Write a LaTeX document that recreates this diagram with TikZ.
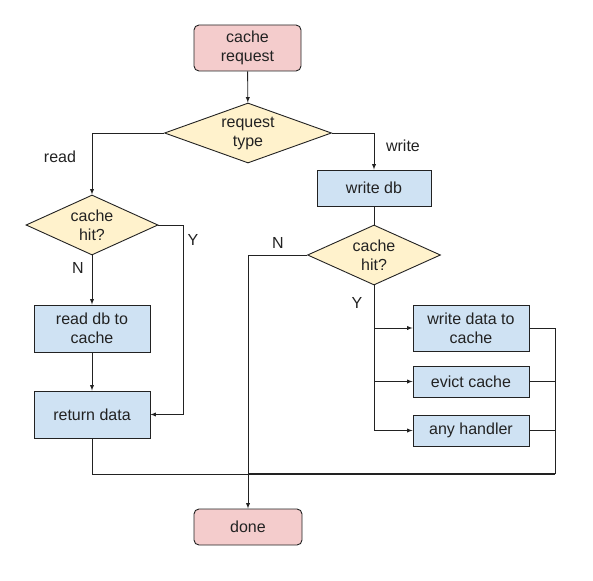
\documentclass[tikz,border=0pt]{standalone}
\usepackage{fontspec}
\setmainfont{Liberation Sans}
\usetikzlibrary{shapes.geometric}

\definecolor{termfill}{HTML}{F4CCCC}
\definecolor{procfill}{HTML}{CFE2F3}
\definecolor{decfill}{HTML}{FFF2CC}
\definecolor{edge}{HTML}{222222}

\tikzset{
  base/.style={draw=edge, line width=0.9pt, align=center, text=edge,
    font=\fontsize{16}{19}\selectfont, inner sep=0pt},
  term/.style={base, fill=termfill, rounded corners=5pt},
  proc/.style={base, fill=procfill, minimum width=116pt},
  dec/.style={base, fill=decfill, diamond, aspect=2.6, minimum height=60pt},
  lbl/.style={font=\fontsize{16}{19}\selectfont, text=edge}
}

\begin{document}
\begin{tikzpicture}[x=1pt, y=-1pt, >=latex, line width=0.9pt, draw=edge]
  \useasboundingbox (0,0) rectangle (593,580);
  \node[term, minimum width=107pt, minimum height=46pt] (req) at (247.5,48) {cache\\request};
  \node[dec, minimum width=167pt] (type) at (248,133) {request\\type};
  \node[proc, minimum width=114pt, minimum height=36pt] (wdb) at (374,188) {write db};
  \node[dec, minimum width=133pt] (hitR) at (374,255) {cache\\hit?};
  \node[dec, minimum width=132pt] (hitL) at (92,225) {cache\\hit?};
  \node[proc, minimum height=47pt] (rdb) at (92,328.5) {read db to\\cache};
  \node[proc, minimum height=47pt] (ret) at (92,414.5) {return data};
  \node[proc, minimum height=46pt] (wdc) at (471,328) {write data to\\cache};
  \node[proc, minimum height=31pt] (evict) at (471,381.5) {evict cache};
  \node[proc, minimum height=31pt] (any) at (471,430.5) {any handler};
  \node[term, minimum width=108pt, minimum height=36pt] (done) at (248,527) {done};
  \coordinate (bus) at (555,474);

  \node[lbl] (read) at (60,157) {read};
  \node[lbl] (write) at (403,146) {write};
  \node[lbl] (yL) at (193,240) {Y};
  \node[lbl] (nL) at (78,268) {N};
  \node[lbl] (nR) at (278,243) {N};
  \node[lbl] (yR) at (357,303) {Y};

  \draw[->] (req) -- (type);
  \draw[->] (type.west) -| (hitL.north);
  \draw[->] (type.east) -| (wdb.north);
  \draw (wdb) -- (hitR);
  \draw[->] (hitL) -- (rdb);
  \draw[->] (hitL.east) -- ++(25,0) |- (ret);
  \draw[->] (rdb) -- (ret);
  \draw (ret.south) |- (bus);
  \draw[->] (hitR.south) |- (wdc);
  \draw[->] (hitR.south) |- (evict);
  \draw[->] (hitR.south) |- (any);
  \draw (wdc.east) -| (bus);
  \draw (evict.east) -- (evict.east -| bus);
  \draw (any.east) -- (any.east -| bus);
  \draw[line width=1.8pt] (bus) -- (bus -| done.north);
  \draw[->] (hitR.west) -| (done.north);
\end{tikzpicture}
\end{document}
